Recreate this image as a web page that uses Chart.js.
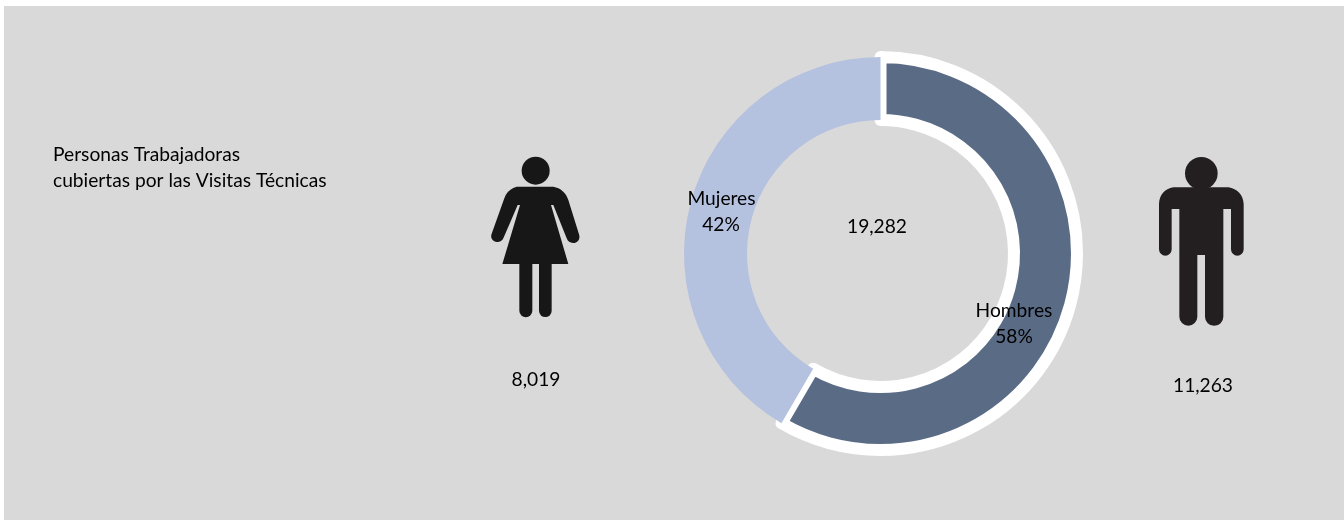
<!DOCTYPE html>
<html lang="es">
<head>
<meta charset="utf-8">
<title>Personas Trabajadoras cubiertas por las Visitas Técnicas</title>
<script src="https://cdn.jsdelivr.net/npm/chart.js@4"></script>
<style>
html,body{margin:0;padding:0;background:#fff;width:1344px;height:521px;overflow:hidden}
#panel{position:absolute;left:4px;top:6px;width:1340px;height:514px;background:#d9d9d9}
canvas{position:absolute;left:0;top:0}
svg{position:absolute;filter:blur(.4px)}
</style>
</head>
<body>
<div id="panel"></div>
<svg style="left:470px;top:140px" width="130" height="190" viewBox="0 0 390 570" aria-hidden="true">
<g fill="#171717">
<circle cx="197" cy="92" r="42"/>
<path d="M140 140H250C272 144 288 158 295 180L327 283C332 298 322 308 311 309C302 310 293 304 290 295L250 195H243L295 372H97L150 195H143L100 295C96 304 88 307 80 306C68 304 60 294 65 281L103 175C110 156 122 145 140 140Z"/>
<path d="M148 372H187V512A19.500 19.500 0 0 1 148 512Z"/>
<path d="M207 372H245V512A19 19 0 0 1 207 512Z"/>
</g>
</svg>
<svg style="left:1140px;top:140px" width="130" height="200" viewBox="0 0 390 600" aria-hidden="true">
<g fill="#231f20">
<circle cx="184" cy="100" r="49"/>
<path d="M100 142H265C292 146 310 165 311 192V328A19 19 0 0 1 273 328V207H250V530A27.500 27.500 0 0 1 195 530V345H172V530A27 27 0 0 1 118 530V207H95V328A19 19 0 0 1 57 328V192C58 165 74 146 100 142Z"/>
</g>
</svg>
<canvas id="c" width="1344" height="521"></canvas>
<script>
const categories = ['Hombres', 'Mujeres'];
const values = [11263, 8019];
const percentLabels = ['58%', '42%'];
const totalLabel = '19,282';
const valueLabels = ['11,263', '8,019'];
const titleLines = ['Personas Trabajadoras', 'cubiertas por las Visitas Técnicas'];
const sliceColors = ['#5a6b86', '#b4c1df'];

const FONT = '19.2px Lato, Carlito, "Open Sans", sans-serif';

const textPlugin = {
  id: 'textPlugin',
  afterDatasetsDraw(chart) {
    const ctx = chart.ctx;
    ctx.save();
    ctx.fillStyle = '#000';
    ctx.font = FONT;
    ctx.textBaseline = 'middle';
    ctx.textAlign = 'left';
    ctx.fillText(titleLines[0], 53, 155);
    ctx.fillText(titleLines[1], 53, 181);
    ctx.textAlign = 'center';
    ctx.fillText(categories[1], 721.5, 199);
    ctx.fillText(percentLabels[1], 721, 225);
    ctx.fillText(categories[0], 1014, 311);
    ctx.fillText(percentLabels[0], 1014, 337);
    ctx.fillText(totalLabel, 877, 227);
    ctx.fillText(valueLabels[1], 536, 380);
    ctx.fillText(valueLabels[0], 1203, 386);
    ctx.restore();
  }
};

new Chart(document.getElementById('c'), {
  type: 'doughnut',
  data: {
    labels: categories,
    datasets: [{
      data: values,
      backgroundColor: sliceColors,
      borderColor: ['#ffffff', 'rgba(0,0,0,0)'],
      borderWidth: [12, 0],
      borderAlign: 'center',
      borderJoinStyle: 'round',
      hoverOffset: 0
    }]
  },
  options: {
    responsive: false,
    animation: false,
    radius: 196.5,
    cutout: '67.94%',
    rotation: 0,
    layout: { padding: { left: 417, bottom: 14 } },
    plugins: { legend: { display: false }, tooltip: { enabled: false }, title: { display: false } },
    events: []
  },
  plugins: [textPlugin]
});
</script>
</body>
</html>
